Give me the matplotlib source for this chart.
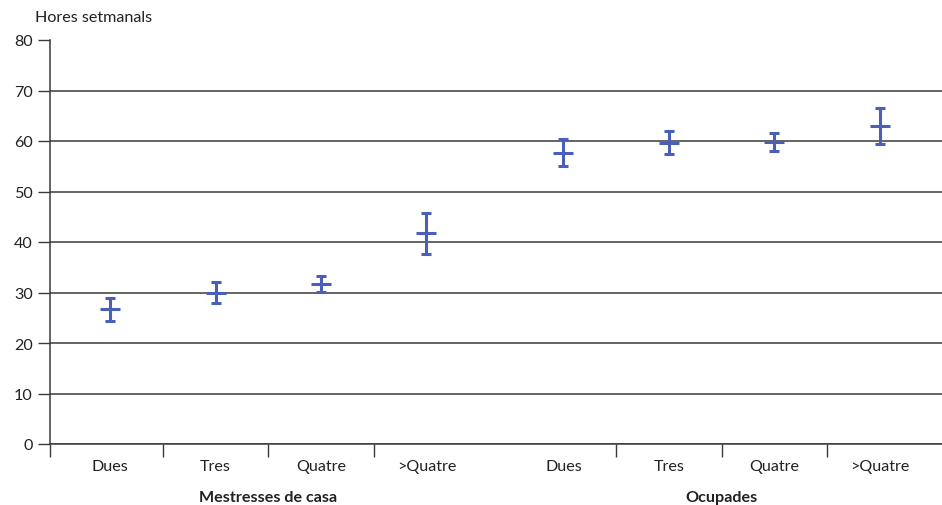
import numpy as np
import matplotlib.pyplot as plt

# Weekly hours by number of household members, two groups of women
categories = ['Dues', 'Tres', 'Quatre', '>Quatre']
groups = ['Mestresses de casa', 'Ocupades']
mestresses_mean = [26.7, 30.0, 31.7, 41.7]
mestresses_err = [2.3, 2.0, 1.6, 4.1]
ocupades_mean = [57.7, 59.7, 59.8, 63.0]
ocupades_err = [2.6, 2.3, 1.7, 3.5]

plt.rcParams['font.family'] = ['Lato', 'DejaVu Sans']

blue = '#4a5fb8'
dark = '#3a3a3a'
txt = '#222222'
fs = 11.6

fig = plt.figure(figsize=(9.42, 5.06), dpi=100)
ax = fig.add_axes([50 / 942, 1 - 445 / 506, 1 - 50 / 942, (445 - 41) / 506])

gap = 1.3
x1 = np.arange(len(categories))
x2 = x1 + len(categories) - 1 + gap

for xs, means, errs in [(x1, mestresses_mean, mestresses_err),
                        (x2, ocupades_mean, ocupades_err)]:
    ax.errorbar(xs, means, yerr=errs, fmt='_', color=blue, ecolor=blue,
                elinewidth=2.2, capsize=3.6, capthick=2.2,
                markersize=14, markeredgewidth=2.2, zorder=3)

left, right = -0.57, x2[-1] + 0.59
ax.set_xlim(left, right)
ax.set_ylim(0, 80)

# y axis
ax.set_yticks(range(0, 81, 10))
ax.tick_params(axis='y', direction='out', length=8.5, width=1, color=dark,
               labelsize=fs, pad=4, labelcolor=txt)
ax.yaxis.grid(True, color=dark, linewidth=1.1)
ax.yaxis.get_gridlines()[-1].set_visible(False)
ax.set_axisbelow(True)

# x axis: labels at category centres, separator ticks between them
ax.set_xticks(np.concatenate([x1, x2]))
ax.set_xticklabels(categories + categories)
ax.tick_params(axis='x', which='major', length=0, labelsize=fs, pad=11,
               labelcolor=txt)
seps = [left] + list(x1[:-1] + 0.5) + list(x2[:-1] + 0.5)
ax.set_xticks(seps, minor=True)
ax.tick_params(axis='x', which='minor', direction='out', length=9, width=1,
               color=dark)

for s in ['top', 'right']:
    ax.spines[s].set_visible(False)
for s in ['left', 'bottom']:
    ax.spines[s].set_color(dark)
    ax.spines[s].set_linewidth(1.1)

# group names under the category labels
for xs, name in [(x1, groups[0]), (x2, groups[1])]:
    ax.text(xs.mean(), -0.13, name, transform=ax.get_xaxis_transform(),
            ha='center', va='center', fontsize=fs, fontweight='bold',
            color=txt)

fig.text(35 / 942, 1 - 18 / 506, 'Hores setmanals', ha='left', va='center',
         fontsize=fs, color=txt)

fig.savefig('out.png', dpi=100)
